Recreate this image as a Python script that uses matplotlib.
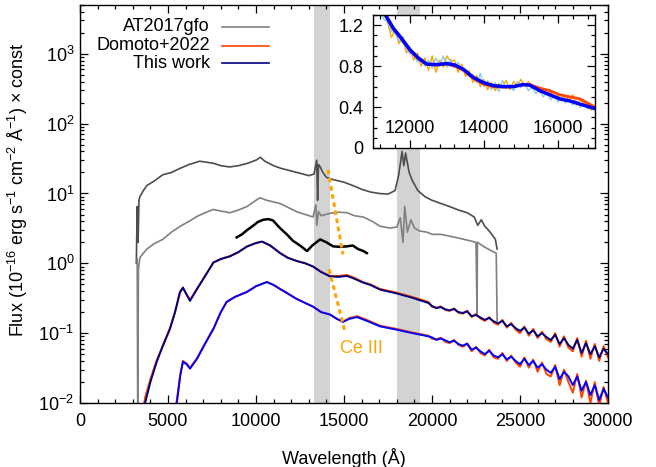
import numpy as np
import matplotlib
matplotlib.use("Agg")
import matplotlib.pyplot as plt
from matplotlib.ticker import MultipleLocator, LogLocator, FuncFormatter, NullFormatter

plt.rcParams['font.family'] = ['Liberation Sans', 'DejaVu Sans']
plt.rcParams['font.size'] = 13
plt.rcParams['mathtext.fontset'] = 'custom'
plt.rcParams['mathtext.rm'] = 'Liberation Sans'
plt.rcParams['mathtext.it'] = 'Liberation Sans:italic'

# AT2017gfo, early epoch (scaled, dark grey)
wl_obs1 = [3200, 3250, 3300, 3350, 3400, 3600, 3800, 4200, 4700, 5200, 5700, 6200, 6800, 7200,
           7600, 8000, 8500, 9000, 9500, 10000, 10250, 10500, 11000, 11400, 12000, 12500, 13000,
           13300, 13450, 13500, 13550, 13650, 13800, 14000, 14300, 15000, 15500, 16000, 16500,
           17000, 17500, 17900, 18100, 18300, 18400, 18500, 18700, 18900, 19200, 19600, 20000,
           20500, 21000, 21500, 22000, 22400, 22600, 22800, 23000, 23200, 23400, 23600, 23700]
fl_obs1 = [1.0, 6.5, 2.0, 8.0, 9.0, 11, 13, 15, 18.5, 20, 23, 26, 29, 28,
           27, 25, 24, 25, 27, 30, 33, 29, 25, 23, 21, 19.5, 18,
           19, 30, 8, 26, 24, 20, 17, 16, 14.5, 13, 11.5, 10.5,
           10, 9.8, 11, 18, 40, 25, 38, 20, 15, 11, 9, 8,
           7.2, 6.5, 5.8, 5.3, 4.6, 3.5, 4.2, 3.4, 3.0, 2.6, 2.2, 1.6]

# AT2017gfo, later epoch (scaled, mid grey)
wl_obs2 = [3250, 3280, 3320, 3400, 3600, 3800, 4200, 4700, 5200, 5700, 6200, 6650, 7100, 7580,
           8000, 8520, 9000, 9490, 10000, 10230, 10600, 11360, 12000, 12300, 12800, 13240, 13400,
           13450, 13550, 13700, 14200, 14700, 15170, 15600, 16100, 16600, 17050, 17600, 18000,
           18200, 18350, 18450, 18600, 18800, 19000, 19300, 19700, 20000, 20500, 21000, 21500,
           22000, 22500, 22560, 22580, 23000, 23400, 23650, 23700]
fl_obs2 = [1.15, 0.005, 0.8, 1.2, 1.4, 1.6, 1.9, 2.2, 2.8, 3.4, 4.0, 4.7, 5.3, 5.9,
           5.6, 5.3, 5.8, 6.5, 8.0, 8.7, 8.0, 7.2, 6.0, 5.5, 5.0, 4.6, 6.9,
           3.5, 5.5, 4.8, 5.2, 5.4, 5.3, 4.8, 4.6, 4.0, 3.4, 3.2, 3.3,
           4.5, 2.0, 6.5, 2.8, 4.2, 3.2, 2.9, 2.8, 2.6, 2.6, 2.45, 2.3,
           2.15, 2.0, 0.18, 2.0, 1.7, 1.5, 1.4, 0.15]

# third observed spectrum (black)
wl_obs3 = [8900, 9200, 9500, 9800, 10100, 10400, 10700, 10970, 11360, 11750, 12100, 12500, 12900,
           13200, 13640, 14000, 14380, 14770, 15170, 15500, 15800, 16100, 16300]
fl_obs3 = [2.35, 2.6, 3.0, 3.4, 3.9, 4.2, 4.3, 4.1, 3.2, 2.6, 2.1, 1.8, 1.5,
           1.8, 2.2, 2.0, 1.75, 1.72, 1.75, 1.8, 1.6, 1.5, 1.4]

# models, upper pair (blue-optical part)
wl_mod = [3500, 3700, 4000, 4360, 4700, 5110, 5400, 5680, 5850, 6050, 6250, 6650, 7100, 7580,
          8000, 8520, 9000, 9490, 10000, 10340, 10800, 11360, 11800, 12300, 12800, 13240, 13700,
          14200, 14700, 15170, 15600, 16080, 16500, 17050, 18000, 18900, 19800]
fl_this_up = [0.005, 0.01, 0.02, 0.039, 0.065, 0.115, 0.2, 0.39, 0.45, 0.36, 0.29, 0.43, 0.65, 1.03,
              1.15, 1.26, 1.45, 1.74, 1.95, 2.05, 1.8, 1.4, 1.2, 1.08, 1.0, 0.9, 0.75,
              0.65, 0.64, 0.66, 0.6, 0.53, 0.49, 0.42, 0.37, 0.32, 0.27]
fl_domoto_up = [0.006, 0.012, 0.022, 0.041, 0.066, 0.118, 0.2, 0.38, 0.44, 0.36, 0.30, 0.43, 0.66, 1.02,
                1.16, 1.27, 1.44, 1.75, 1.96, 2.04, 1.82, 1.42, 1.21, 1.09, 1.0, 0.9, 0.76,
                0.66, 0.66, 0.68, 0.62, 0.54, 0.5, 0.43, 0.38, 0.33, 0.28]

# models, lower pair (blue-optical part)
wl_mod_lo = [5300, 5500, 5700, 5850, 6050, 6250, 6650, 7100, 7580, 8000, 8330, 8800, 9490, 10000,
             10620, 11000, 11360, 11800, 12300, 12800, 13240, 13700, 14200, 14600, 14940, 15300,
             15740, 16300, 17050, 18000, 18900, 19800]
fl_this_lo = [0.005, 0.01, 0.025, 0.039, 0.036, 0.031, 0.043, 0.07, 0.115, 0.2, 0.28, 0.33, 0.39, 0.47,
              0.54, 0.49, 0.43, 0.37, 0.31, 0.27, 0.24, 0.2, 0.185, 0.16, 0.145, 0.16,
              0.17, 0.15, 0.125, 0.112, 0.1, 0.09]
fl_domoto_lo = [0.006, 0.011, 0.026, 0.04, 0.037, 0.032, 0.044, 0.071, 0.116, 0.2, 0.28, 0.33, 0.39, 0.47,
                0.54, 0.49, 0.43, 0.37, 0.31, 0.27, 0.24, 0.2, 0.185, 0.16, 0.146, 0.165,
                0.175, 0.155, 0.128, 0.115, 0.102, 0.092]

# noisy infrared tails of the models
wl_tail = [20000, 20250, 20500, 20750, 21000, 21250, 21500, 21750, 22000, 22250, 22500, 22750,
           23000, 23250, 23500, 23750, 24000, 24250, 24500, 24750, 25000, 25250, 25500, 25750,
           26000, 26250, 26500, 26750, 27000, 27250, 27500, 27750, 28000, 28250, 28500, 28750,
           29000, 29250, 29500, 29750, 30000]
tail_this_up = [0.245, 0.228, 0.236, 0.22, 0.212, 0.222, 0.2, 0.195, 0.205, 0.175, 0.182, 0.168,
                0.155, 0.165, 0.148, 0.138, 0.15, 0.125, 0.135, 0.118, 0.108, 0.12, 0.098, 0.11,
                0.09, 0.1, 0.088, 0.08, 0.095, 0.07, 0.085, 0.068, 0.06, 0.08, 0.052, 0.072,
                0.05, 0.065, 0.045, 0.06, 0.05]
tail_domoto_up = [0.238, 0.232, 0.242, 0.215, 0.208, 0.226, 0.196, 0.19, 0.21, 0.17, 0.188, 0.162,
                  0.15, 0.17, 0.142, 0.132, 0.155, 0.12, 0.14, 0.112, 0.1, 0.125, 0.092, 0.115,
                  0.085, 0.105, 0.082, 0.075, 0.1, 0.064, 0.09, 0.062, 0.055, 0.085, 0.046, 0.078,
                  0.043, 0.07, 0.04, 0.065, 0.045]
tail_this_lo = [0.087, 0.08, 0.084, 0.079, 0.074, 0.078, 0.07, 0.066, 0.071, 0.058, 0.062, 0.055,
                0.05, 0.056, 0.048, 0.045, 0.05, 0.042, 0.046, 0.04, 0.036, 0.043, 0.035, 0.04,
                0.032, 0.036, 0.03, 0.027, 0.033, 0.022, 0.028, 0.024, 0.018, 0.024, 0.015, 0.02,
                0.013, 0.018, 0.011, 0.016, 0.012]
tail_domoto_lo = [0.083, 0.082, 0.086, 0.075, 0.072, 0.08, 0.068, 0.064, 0.07, 0.055, 0.064, 0.052,
                  0.048, 0.058, 0.045, 0.043, 0.052, 0.04, 0.048, 0.038, 0.033, 0.045, 0.032, 0.042,
                  0.028, 0.038, 0.026, 0.024, 0.035, 0.018, 0.03, 0.02, 0.014, 0.026, 0.012, 0.021,
                  0.01, 0.02, 0.009, 0.017, 0.01]

# telluric bands and Ce III guide lines
bands = [(13300, 14200), (18000, 19300)]
ce_up_x = [14090, 14940]
ce_up_y = [21.8, 1.34]
ce_lo_x = [14150, 15060]
ce_lo_y = [0.82, 0.104]

# inset (normalised)
wl_in = [11300, 11370, 11550, 11775, 12000, 12225, 12450, 12720, 12990, 13220, 13440, 13710, 13980,
         14250, 14520, 14790, 15060, 15240, 15510, 15780, 16050, 16320, 16590, 16950, 17000]
in_this = [1.33, 1.28, 1.17, 1.07, 0.96, 0.88, 0.82, 0.815, 0.826, 0.81, 0.77, 0.69, 0.64,
           0.61, 0.60, 0.60, 0.62, 0.614, 0.56, 0.52, 0.48, 0.46, 0.43, 0.39, 0.385]
in_domoto = [1.33, 1.28, 1.16, 1.06, 0.95, 0.87, 0.82, 0.81, 0.82, 0.80, 0.76, 0.68, 0.625,
             0.60, 0.595, 0.60, 0.62, 0.62, 0.585, 0.56, 0.52, 0.50, 0.48, 0.41, 0.40]
wl_in_obs = [11200, 11300, 11400, 11500, 11600, 11700, 11800, 11900, 12000, 12100, 12200, 12300,
             12400, 12500, 12600, 12700, 12800, 12900, 13000, 13100, 13200, 13300, 13400, 13500,
             13600, 13700, 13800, 13900, 14000, 14100, 14200, 14300, 14400, 14500, 14600, 14700,
             14800, 14900, 15000, 15100, 15200, 15300, 15400, 15500, 15600, 15700, 15800, 15900,
             16000, 16100, 16200, 16300, 16400, 16500, 16600, 16700, 16800, 16900, 17000]
in_obs_a = [1.38, 1.30, 1.22, 1.08, 1.16, 1.02, 1.09, 0.93, 0.98, 0.86, 0.93, 0.80, 0.88, 0.76,
            0.90, 0.74, 0.86, 0.79, 0.90, 0.84, 0.86, 0.74, 0.82, 0.70, 0.76, 0.64, 0.71, 0.60,
            0.67, 0.57, 0.64, 0.56, 0.63, 0.60, 0.66, 0.57, 0.65, 0.61, 0.67, 0.60, 0.65, 0.58,
            0.60, 0.54, 0.58, 0.52, 0.55, 0.49, 0.52, 0.46, 0.51, 0.47, 0.52, 0.42, 0.47, 0.44,
            0.43, 0.37, 0.41]
in_obs_b = [1.34, 1.25, 1.24, 1.14, 1.12, 1.05, 1.03, 0.97, 0.92, 0.93, 0.84, 0.87, 0.80, 0.86,
            0.78, 0.88, 0.80, 0.90, 0.79, 0.87, 0.78, 0.84, 0.76, 0.77, 0.70, 0.72, 0.64, 0.73,
            0.60, 0.66, 0.57, 0.64, 0.55, 0.66, 0.58, 0.62, 0.56, 0.65, 0.59, 0.63, 0.56, 0.60,
            0.53, 0.57, 0.50, 0.54, 0.47, 0.52, 0.45, 0.50, 0.44, 0.47, 0.42, 0.46, 0.40, 0.43,
            0.38, 0.40, 0.37]

legend_labels = ['AT2017gfo', 'Domoto+2022', 'This work']
legend_colors = ['#808080', '#ff4500', '#000080']

fig = plt.figure(figsize=(6.56, 4.67), dpi=100)
ax = fig.add_axes([80 / 656, 1 - 403 / 467, 528 / 656, 398 / 467])

for lo, hi in bands:
    ax.axvspan(lo, hi, color='#d3d3d3', lw=0, zorder=0)

ax.plot(wl_obs1, fl_obs1, color='#4d4d4d', lw=1.2)
ax.plot(wl_obs2, fl_obs2, color='#808080', lw=1.2)
ax.plot(wl_obs3, fl_obs3, color='black', lw=1.8)
ax.plot(wl_mod + wl_tail, fl_domoto_up + tail_domoto_up, color='#ff4500', lw=1.4)
ax.plot(wl_mod + wl_tail, fl_this_up + tail_this_up, color='#000080', lw=1.4)
ax.plot(wl_mod_lo + wl_tail, fl_domoto_lo + tail_domoto_lo, color='#ff4500', lw=1.4)
ax.plot(wl_mod_lo + wl_tail, fl_this_lo + tail_this_lo, color='#0000ff', lw=1.4)
ax.plot(ce_up_x, ce_up_y, color='#ffa500', lw=2.2, ls=(0, (1.5, 1.2)))
ax.plot(ce_lo_x, ce_lo_y, color='#ffa500', lw=2.2, ls=(0, (1.5, 1.2)))
ax.text(16000, 0.06, 'Ce III', color='#ffa500', ha='center', va='center')

ax.set_yscale('log')
ax.set_xlim(0, 30000)
ax.set_ylim(0.01, 5000)
ax.xaxis.set_major_locator(MultipleLocator(5000))
ax.xaxis.set_minor_locator(MultipleLocator(1000))
ax.yaxis.set_major_locator(LogLocator(base=10, numticks=10))
ax.yaxis.set_minor_locator(LogLocator(base=10, subs=np.arange(2, 10), numticks=20))
ax.yaxis.set_minor_formatter(NullFormatter())
ax.tick_params(which='both', direction='in', top=True, right=True, width=0.9)
ax.tick_params(which='major', length=6)
ax.tick_params(which='minor', length=3)
ax.tick_params(axis='x', pad=7)
ax.tick_params(axis='y', pad=4)
for s in ax.spines.values():
    s.set_linewidth(1.0)

ax.set_xlabel('Wavelength (Å)')
ax.xaxis.set_label_coords(0.5, -0.113)
ax.set_ylabel(r'Flux (10$^{-16}$ erg s$^{-1}$ cm$^{-2}$ Å$^{-1}$) × const')
ax.yaxis.set_label_coords(-0.095, 0.535)

# gnuplot-style legend: text right aligned, sample on the right
ys = [0.945, 0.897, 0.854]
for lab, col, yy in zip(legend_labels, legend_colors, ys):
    ax.text(0.246, yy, lab, transform=ax.transAxes, ha='right', va='center')
    ax.plot([0.269, 0.358], [yy, yy], transform=ax.transAxes, color=col, lw=1.2)

# inset
axi = fig.add_axes([373 / 656, 1 - 148 / 467, 222 / 656, 133 / 467])
axi.set_facecolor('white')
axi.plot(wl_in_obs, in_obs_a, color='#ffa500', lw=1.0)
axi.plot(wl_in_obs, in_obs_b, color='#87ceeb', lw=1.0)
axi.plot(wl_in, in_domoto, color='#ff4500', lw=2.0)
axi.plot(wl_in, in_this, color='#0000ff', lw=2.5)
axi.set_xlim(11000, 17000)
axi.set_ylim(0, 1.3)
axi.xaxis.set_major_locator(MultipleLocator(2000))
axi.xaxis.set_minor_locator(MultipleLocator(400))
axi.yaxis.set_major_locator(MultipleLocator(0.4))
axi.yaxis.set_minor_locator(MultipleLocator(0.1))
axi.yaxis.set_major_formatter(FuncFormatter(lambda v, p: '0' if abs(v) < 1e-9 else f'{v:.1f}'))
axi.tick_params(which='both', direction='in', top=True, right=True, width=0.9)
axi.tick_params(which='major', length=6)
axi.tick_params(which='minor', length=3)
axi.tick_params(axis='x', pad=-20)
axi.tick_params(axis='y', pad=7)
for s in axi.spines.values():
    s.set_linewidth(1.0)

fig.savefig('out.png', dpi=100)
